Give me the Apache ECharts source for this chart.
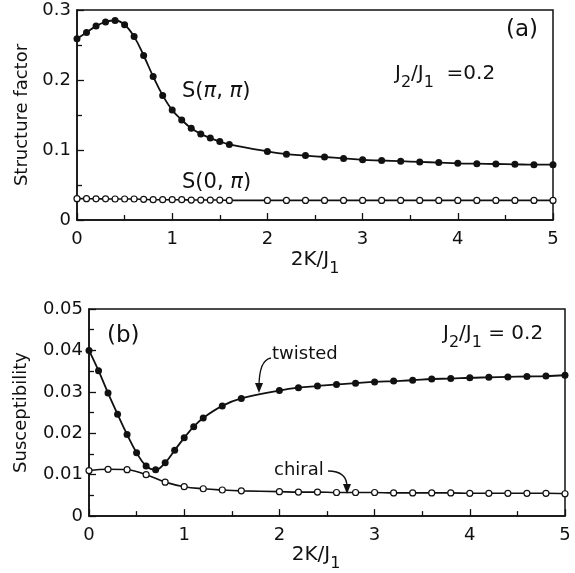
<!DOCTYPE html>
<html>
<head>
<meta charset="utf-8">
<script src="https://cdn.jsdelivr.net/npm/echarts@6/dist/echarts.min.js"></script>
<style>
  html, body { margin: 0; padding: 0; background: #fff; }
  #chart { width: 575px; height: 573px; }
</style>
</head>
<body>
<div id="chart"></div>
<script>
// panel (a): structure factor
const xA = [0, 0.1, 0.2, 0.3, 0.4, 0.5, 0.6, 0.7, 0.8, 0.9, 1.0, 1.1, 1.2, 1.3, 1.4, 1.5, 1.6,
  2.0, 2.2, 2.4, 2.6, 2.8, 3.0, 3.2, 3.4, 3.6, 3.8, 4.0, 4.2, 4.4, 4.6, 4.8, 5.0]
const sPiPi = [0.259, 0.268, 0.277, 0.283, 0.285, 0.279, 0.262, 0.235, 0.205, 0.178, 0.157, 0.143, 0.131, 0.123, 0.117, 0.112, 0.108,
  0.098, 0.094, 0.092, 0.090, 0.088, 0.086, 0.085, 0.084, 0.083, 0.082, 0.081, 0.0805, 0.080, 0.0795, 0.079, 0.079]
const s0Pi = [0.0305, 0.0305, 0.0302, 0.0302, 0.030, 0.030, 0.030, 0.0295, 0.029, 0.029, 0.029, 0.029, 0.0285, 0.0285, 0.0285, 0.0285, 0.028,
  0.028, 0.028, 0.028, 0.028, 0.028, 0.028, 0.028, 0.028, 0.028, 0.028, 0.028, 0.028, 0.028, 0.028, 0.028, 0.028]

// panel (b): susceptibility
const xTw = [0, 0.1, 0.2, 0.3, 0.4, 0.5, 0.6, 0.7, 0.8, 0.9, 1.0, 1.1, 1.2, 1.4, 1.6,
  2.0, 2.2, 2.4, 2.6, 2.8, 3.0, 3.2, 3.4, 3.6, 3.8, 4.0, 4.2, 4.4, 4.6, 4.8, 5.0]
const twisted = [0.040, 0.0351, 0.0297, 0.0246, 0.0197, 0.0153, 0.0121, 0.0112, 0.0129, 0.0159, 0.0189, 0.0216, 0.0237, 0.0266, 0.0284,
  0.0303, 0.031, 0.0314, 0.0318, 0.0321, 0.0324, 0.0326, 0.0328, 0.0331, 0.0332, 0.0334, 0.0335, 0.0336, 0.0337, 0.0338, 0.034]
const xCh = [0, 0.2, 0.4, 0.6, 0.8, 1.0, 1.2, 1.4, 1.6,
  2.0, 2.2, 2.4, 2.6, 2.8, 3.0, 3.2, 3.4, 3.6, 3.8, 4.0, 4.2, 4.4, 4.6, 4.8, 5.0]
const chiral = [0.011, 0.0113, 0.0112, 0.010, 0.0082, 0.0071, 0.0066, 0.0063, 0.0061,
  0.0059, 0.0058, 0.0058, 0.0057, 0.0057, 0.0057, 0.0056, 0.0056, 0.0056, 0.0056, 0.0055, 0.0055, 0.0055, 0.0055, 0.0055, 0.0054]

const FONT = 'DejaVu Sans'
const INK = '#111'

const pair = (xs, ys) => xs.map((x, i) => [x, ys[i]])

// subscripts in the figure are nearly full size, just dropped below the line
const subRich = {
  n: { fontSize: 20, lineHeight: 34, fontFamily: FONT, color: INK },
  s: { fontSize: 16, lineHeight: 14, verticalAlign: 'bottom', fontFamily: FONT, color: INK },
  p: { fontSize: 21, lineHeight: 30, fontStyle: 'italic', fontFamily: FONT, color: INK },
  t: { fontSize: 21, lineHeight: 30, fontFamily: FONT, color: INK },
}

function xAxisOf(gridIndex, gap, pad) {
  return {
    gridIndex,
    type: 'value',
    min: 0,
    max: 5,
    interval: 1,
    name: '{n|2K/J}{s|1}',
    nameLocation: 'middle',
    nameGap: gap,
    nameTextStyle: { rich: subRich, padding: pad },
    axisLine: { lineStyle: { color: INK, width: 1.5 } },
    axisTick: { inside: true, length: 7, lineStyle: { color: INK, width: 1.3 } },
    minorTick: { show: true, splitNumber: 2, length: 5, lineStyle: { color: INK, width: 1.3 } },
    splitLine: { show: false },
    axisLabel: { fontSize: 18, fontFamily: FONT, color: INK, margin: 10 },
  }
}

function yAxisOf(gridIndex, max, step, name, gap) {
  return {
    gridIndex,
    type: 'value',
    min: 0,
    max,
    interval: step,
    name,
    nameLocation: 'middle',
    nameGap: gap,
    nameTextStyle: { fontSize: 18, fontFamily: FONT, color: INK },
    axisLine: { lineStyle: { color: INK, width: 1.5 } },
    axisTick: { inside: true, length: 7, lineStyle: { color: INK, width: 1.3 } },
    minorTick: { show: true, splitNumber: 2, length: 5, lineStyle: { color: INK, width: 1.3 } },
    splitLine: { show: false },
    axisLabel: { fontSize: 18, fontFamily: FONT, color: INK, margin: 6 },
  }
}

function filled(xi, data) {
  return {
    type: 'line', xAxisIndex: xi, yAxisIndex: xi, data, smooth: 0.4,
    symbol: 'circle', symbolSize: 7, showAllSymbol: true,
    lineStyle: { color: INK, width: 1.8 },
    itemStyle: { color: INK },
    z: 3,
  }
}

function open(xi, data) {
  return {
    type: 'line', xAxisIndex: xi, yAxisIndex: xi, data, smooth: 0.4,
    symbol: 'circle', symbolSize: 6, showAllSymbol: true,
    lineStyle: { color: INK, width: 1.6 },
    itemStyle: { color: '#fff', borderColor: INK, borderWidth: 1.2 },
    z: 3,
  }
}

function label(left, top, text, size) {
  return { type: 'text', left, top, style: { text, fontSize: size || 18, fontFamily: FONT, fill: INK } }
}

function richLabel(left, top, text) {
  return { type: 'text', left, top, style: { text, rich: subRich, fill: INK } }
}

const option = {
  animation: false,
  backgroundColor: '#fff',
  grid: [
    { left: 77, top: 10, width: 476, height: 210, show: true, borderColor: INK, borderWidth: 1.5 },
    { left: 89, top: 309, width: 476, height: 212, show: true, borderColor: INK, borderWidth: 1.5 },
  ],
  xAxis: [xAxisOf(0, 23, [0, 0, 0, 0]), xAxisOf(1, 17, [0, 22, 0, 0])],
  yAxis: [
    yAxisOf(0, 0.3, 0.1, 'Structure factor', 38),
    yAxisOf(1, 0.05, 0.01, 'Susceptibility', 59),
  ],
  series: [
    filled(0, pair(xA, sPiPi)),
    open(0, pair(xA, s0Pi)),
    filled(1, pair(xTw, twisted)),
    open(1, pair(xCh, chiral)),
  ],
  graphic: [
    label(506, 19, '(a)', 23),
    richLabel(395, 64, '{n|J}{s|2}{n|/J}{s|1}{n|  =0.2}'),
    richLabel(182, 81, '{t|S(}{p|π}{t|, }{p|π}{t|)}'),
    richLabel(182, 172, '{t|S(0, }{p|π}{t|)}'),
    label(107, 325, '(b)', 23),
    richLabel(443, 324, '{n|J}{s|2}{n|/J}{s|1}{n| = 0.2}'),
    label(272, 345, 'twisted'),
    label(274, 461, 'chiral'),
    {
      type: 'bezierCurve',
      shape: { x1: 271, y1: 358, cpx1: 259, cpy1: 360, x2: 259, y2: 387 },
      style: { stroke: INK, lineWidth: 1.3, fill: null },
    },
    { type: 'polygon', shape: { points: [[255, 383], [263, 383], [259, 393]] }, style: { fill: INK } },
    {
      type: 'bezierCurve',
      shape: { x1: 328, y1: 471, cpx1: 347, cpy1: 471, x2: 347, y2: 487 },
      style: { stroke: INK, lineWidth: 1.3, fill: null },
    },
    { type: 'polygon', shape: { points: [[343, 484], [351, 484], [347, 494]] }, style: { fill: INK } },
  ],
}

const myChart = echarts.init(document.getElementById('chart'))
myChart.setOption(option)
</script>
</body>
</html>
